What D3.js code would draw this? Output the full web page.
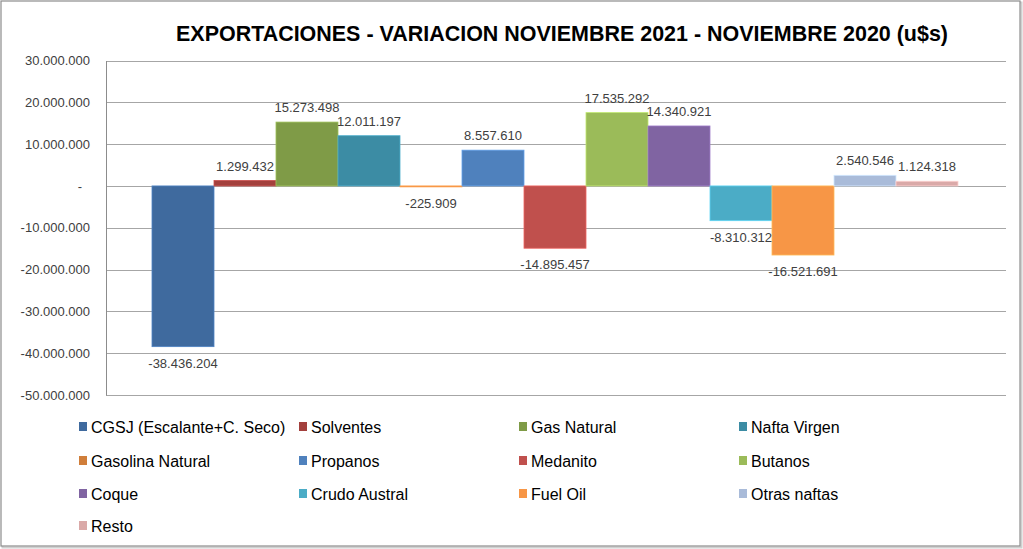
<!DOCTYPE html>
<html>
<head>
<meta charset="utf-8">
<script src="https://cdn.jsdelivr.net/npm/d3@7"></script>
<style>
  body { margin: 0; background: #fff; }
  svg text { font-family: "Liberation Sans", Arial, sans-serif; }
</style>
</head>
<body>
<div id="grafico"></div>
<script>
// datos
const series = ["CGSJ (Escalante+C. Seco)", "Solventes", "Gas Natural", "Nafta Virgen",
                "Gasolina Natural", "Propanos", "Medanito", "Butanos",
                "Coque", "Crudo Austral", "Fuel Oil", "Otras naftas", "Resto"];
const valores = [-38436204, 1299432, 15273498, 12011197,
                 -225909, 8557610, -14895457, 17535292,
                 14340921, -8310312, -16521691, 2540546, 1124318];
const colores = ["#3F6A9E", "#A3403D", "#7F9B47", "#3C8CA4",
                 "#D07E3A", "#4F81BD", "#C0504D", "#9BBB59",
                 "#8064A2", "#4BACC6", "#F79646", "#A9BBD9", "#DAA9A8"];
const ticksY = [-50000000, -40000000, -30000000, -20000000, -10000000, 0,
                10000000, 20000000, 30000000];
const titulo = "EXPORTACIONES - VARIACION NOVIEMBRE 2021 - NOVIEMBRE 2020 (u$s)";

const W = 1023, H = 549;
const plot = { left: 106, right: 1006, top: 60.5, bottom: 395 };

const svg = d3.select("#grafico")
              .append("svg")
              .attr("width", W)
              .attr("height", H);

// marco del grafico
svg.append("rect")
   .attr("x", 2.5).attr("y", 2.5)
   .attr("width", W - 4).attr("height", H - 4)
   .attr("fill", "none").attr("stroke", "#d0d0d0").attr("stroke-width", 2);
svg.append("rect")
   .attr("x", 1).attr("y", 1)
   .attr("width", W - 4).attr("height", H - 4)
   .attr("fill", "#fff").attr("stroke", "#8c8c8c").attr("stroke-width", 1.2);

svg.append("text")
   .attr("x", 562).attr("y", 41)
   .attr("text-anchor", "middle")
   .attr("font-size", 22)
   .attr("font-weight", "bold")
   .attr("fill", "#000")
   .attr("textLength", 772)
   .attr("lengthAdjust", "spacingAndGlyphs")
   .text(titulo);

const yScale = d3.scaleLinear()
                 .domain([-50000000, 30000000])
                 .range([plot.bottom, plot.top]);

const xScale = d3.scaleBand()
                 .domain(series)
                 .range([152, 958]);

const locale = d3.formatLocale({ decimal: ",", thousands: ".", grouping: [3],
                                 currency: ["$", ""], minus: "-" });
const fmt = v => v === 0 ? "-" : locale.format(",")(v);

// grilla
svg.append("g")
   .selectAll("line")
   .data(ticksY)
   .join("line")
   .attr("x1", plot.left).attr("x2", plot.right)
   .attr("y1", d => Math.round(yScale(d)) + 0.5)
   .attr("y2", d => Math.round(yScale(d)) + 0.5)
   .attr("stroke", "#a6a6a6")
   .attr("stroke-width", 1);

const yAxisLeft = d3.axisLeft(yScale)
                    .tickValues(ticksY)
                    .tickSize(0)
                    .tickPadding(16)
                    .tickFormat(fmt);

const ejeY = svg.append("g")
   .attr("transform", `translate(${plot.left}, 0)`)
   .call(yAxisLeft);
ejeY.select(".domain").attr("stroke", "#8c8c8c");
ejeY.selectAll("text")
    .attr("font-size", 13)
    .attr("fill", "#404040")
    .attr("font-family", "Liberation Sans, Arial, sans-serif")
    .attr("x", d => d === 0 ? -24 : -16);

// barras
svg.append("g")
   .selectAll("rect")
   .data(series)
   .join("rect")
   .attr("x", d => xScale(d))
   .attr("width", xScale.bandwidth())
   .attr("y", (d, i) => yScale(Math.max(0, valores[i])))
   .attr("height", (d, i) => Math.abs(yScale(valores[i]) - yScale(0)))
   .attr("fill", (d, i) => colores[i])
   .attr("stroke", (d, i) => d3.color(colores[i]).brighter(0.6))
   .attr("stroke-width", 0.8);

// etiquetas
svg.append("g")
   .selectAll("text")
   .data(series)
   .join("text")
   .attr("x", d => xScale(d) + xScale.bandwidth() / 2)
   .attr("y", (d, i) => valores[i] >= 0 ? yScale(valores[i]) - 10 : yScale(valores[i]) + 21)
   .attr("text-anchor", "middle")
   .attr("font-size", 13)
   .attr("fill", "#404040")
   .text((d, i) => fmt(valores[i]));

// leyenda
const colX = [79, 299, 519, 739];
const rowY = [427, 461, 494, 526];
const leyenda = svg.append("g")
   .selectAll("g")
   .data(series)
   .join("g")
   .attr("transform", (d, i) => `translate(${colX[i % 4]}, ${rowY[Math.floor(i / 4)]})`);
leyenda.append("rect")
   .attr("x", 0).attr("y", -5)
   .attr("width", 8).attr("height", 9)
   .attr("fill", (d, i) => colores[i]);
leyenda.append("text")
   .attr("x", 12).attr("y", 6)
   .attr("font-size", 16)
   .attr("fill", "#000")
   .text(d => d);
</script>
</body>
</html>
